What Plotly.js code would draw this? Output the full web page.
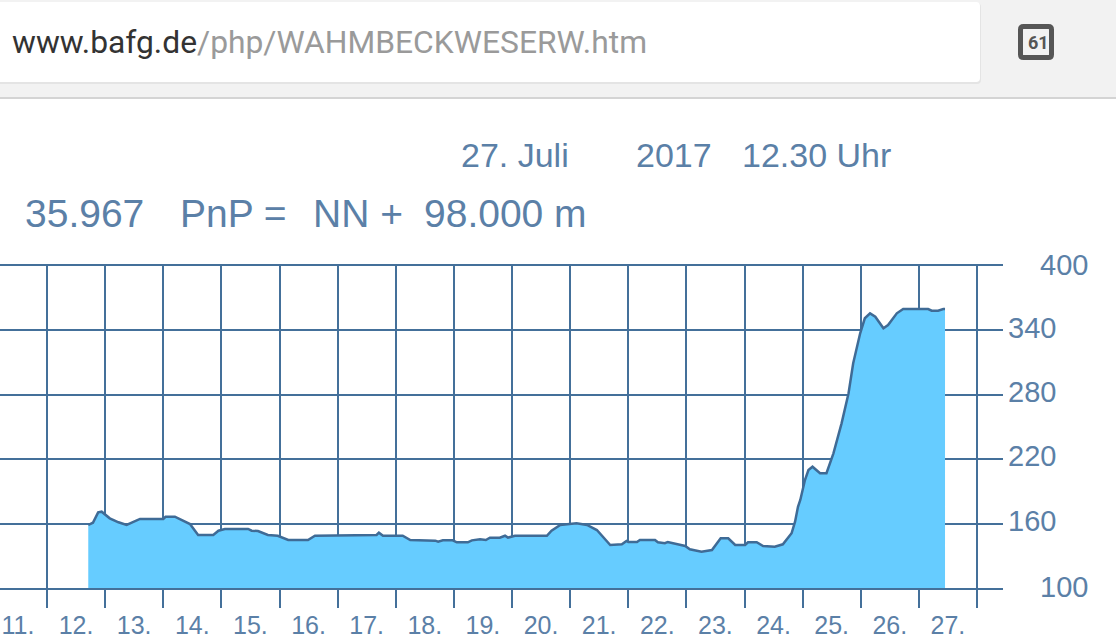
<!DOCTYPE html>
<html><head><meta charset="utf-8">
<script src="https://cdn.plot.ly/plotly-3.0.1.min.js"></script>
<style>html,body{margin:0;padding:0;background:#fff;overflow:hidden}#c{width:1116px;height:641px}</style>
</head><body><div id="c"></div>
<script>
const days = [12.71,12.79,12.88,12.94,13.08,13.23,13.37,13.51,13.60,14.00,14.04,14.20,14.46,14.60,14.86,14.95,15.06,15.46,15.52,15.63,15.80,15.97,16.15,16.49,16.61,17.67,17.71,17.78,18.12,18.25,18.68,18.73,18.81,18.98,19.05,19.24,19.31,19.45,19.52,19.55,19.62,19.79,19.88,19.93,20.05,20.60,20.68,20.83,21.11,21.29,21.46,21.69,21.89,21.97,22.00,22.15,22.20,22.46,22.51,22.63,22.68,22.77,22.98,23.06,23.26,23.44,23.59,23.72,23.84,24.01,24.06,24.21,24.32,24.52,24.66,24.81,24.87,24.92,24.96,25.04,25.10,25.17,25.30,25.41,25.53,25.67,25.79,25.87,25.99,26.07,26.16,26.25,26.39,26.47,26.62,26.73,27.16,27.22,27.33,27.42,27.45];
const levels = [158.7,160.8,170.5,171.1,164.9,161.2,158.7,161.8,164.3,164.3,166.4,166.4,159.6,149.4,149.4,153.4,155,155,153.4,153.1,149.4,148.7,144.7,144.7,148.7,149.4,151.5,148.7,148.7,144.7,144.1,143.1,144.4,144.4,142.6,142.6,144.4,145.4,145.4,144.7,146.9,146.9,148.7,146.9,148.7,148.7,153.4,158.7,160.3,158.7,154,140.1,140.7,143.8,142.9,142.9,144.7,144.7,142.6,141.7,142.9,141.7,139.1,136.1,133.8,135.4,146.3,146.3,140.1,140.1,142.6,142.6,139.1,138.5,140.7,151,161.8,175.7,182,200.6,209.9,213,206.9,206.9,225.5,253.4,281.4,309.4,337.3,351.3,355.9,352.8,342,345,355.9,359.9,359.9,358.4,358.4,359.9,359.9];
const dayLabelPos = [11.5,12.5,13.5,14.5,15.5,16.5,17.5,18.5,19.5,20.5,21.5,22.5,23.5,24.5,25.5,26.5,27.5];
const dayLabels = ["11.","12.","13.","14.","15.","16.","17.","18.","19.","20.","21.","22.","23.","24.","25.","26.","27."];
const dayLines = [12,13,14,15,16,17,18,19,20,21,22,23,24,25,26,27,28];
const levelTicks = [100,160,220,280,340,400];
const levelText = ["","160","220","280","340",""];
const endTicks = [100,400];
const endText = ["100","400"];
const headline = [["27. Juli",459,155,34],["2017",634,155,34],["12.30 Uhr",740,155,34],["35.967",23,213,39],["PnP =",178,213,39],["NN +",311,213,39],["98.000 m",422,213,39]];

const W=1116,H=641,L=0,R=1003,T=266,B=588;
const blue="#44709a", txt="#5b80a7";
const px=x=>(x-L)/(R-L), py=y=>(B-y)/(B-T);
const box=(x0,y0,x1,y1,fill)=>({type:"rect",xref:"paper",yref:"paper",x0:px(x0),x1:px(x1),y0:py(y0),y1:py(y1),fillcolor:fill,line:{width:0},layer:"below"});
const round=(x0,y0,x1,y1,r,fill,line,lw)=>({type:"path",xref:"paper",yref:"paper",layer:"below",fillcolor:fill,line:{color:line||fill,width:lw||0},
  path:`M ${px(x0+r)} ${py(y0)} L ${px(x1-r)} ${py(y0)} Q ${px(x1)} ${py(y0)} ${px(x1)} ${py(y0+r)} L ${px(x1)} ${py(y1-r)} Q ${px(x1)} ${py(y1)} ${px(x1-r)} ${py(y1)} L ${px(x0+r)} ${py(y1)} Q ${px(x0)} ${py(y1)} ${px(x0)} ${py(y1-r)} L ${px(x0)} ${py(y0+r)} Q ${px(x0)} ${py(y0)} ${px(x0+r)} ${py(y0)} Z`});
const note=(text,x,y,size,color,extra)=>Object.assign({text,xref:"paper",yref:"paper",x:px(x),y:py(y),xanchor:"left",yanchor:"middle",showarrow:false,font:{family:"Liberation Sans",size,color}},extra||{});

const shapes=[
  box(0,0,1116,97,"#f2f2f2"),
  box(0,97,1116,99,"#d4d4d4"),
  round(-6,3,981,84,4,"#e4e4e4"),
  round(-6,2,980,82,4,"#ffffff"),
  round(1020.5,26.5,1051.5,57.5,3,"#f2f2f2","#565656",5)
];
const annotations=headline.map(h=>note(h[0],h[1],h[2],h[3],txt));
annotations.push(note('<span style="color:#333333">www.bafg.de</span>/php/WAHMBECKWESERW.htm',10,42,31.8,"#9a9a9a",{font:{family:"Roboto",size:31.8,color:"#9a9a9a"}}));
annotations.push(note("<b>61</b>",1026,42.5,18,"#555555",{font:{family:"Roboto",size:18,color:"#555555"}}));

Plotly.newPlot("c",[{
  x:days,y:levels,type:"scatter",mode:"lines",fill:"tozeroy",fillcolor:"#66ccff",
  line:{color:"#3f6b96",width:2.5,shape:"linear"},hoverinfo:"skip"
},{
  x:[days[0],days[0]],y:endTicks,yaxis:"y2",type:"scatter",mode:"none",hoverinfo:"skip"
}],{
  width:W,height:H,paper_bgcolor:"#ffffff",plot_bgcolor:"#ffffff",showlegend:false,
  margin:{l:L,r:W-R,t:T,b:H-B,pad:0},
  xaxis:{type:"linear",range:[12-47/58.125,12+(1003-47)/58.125],tickmode:"array",tickvals:dayLabelPos,ticktext:dayLabels,
    ticks:"",ticklabelstandoff:14,showgrid:false,zeroline:false,showline:true,mirror:true,linecolor:blue,linewidth:2,layer:"above traces",
    tickfont:{family:"Liberation Sans",size:25,color:txt},
    minor:{tickmode:"array",tickvals:dayLines,showgrid:true,gridcolor:blue,gridwidth:2,griddash:"solid",ticks:"outside",ticklen:18,tickwidth:2,tickcolor:blue}},
  yaxis:{type:"linear",range:[100,400],side:"right",tickmode:"array",tickvals:levelTicks,ticktext:levelText,ticks:"",
    ticklabelstandoff:4,ticklabelshift:-3,showgrid:true,gridcolor:blue,gridwidth:2,zeroline:false,showline:false,
    tickfont:{family:"Liberation Sans",size:29,color:txt}},
  yaxis2:{type:"linear",range:[100,400],side:"right",overlaying:"y",anchor:"x",tickmode:"array",tickvals:endTicks,ticktext:endText,ticks:"",
    ticklabelstandoff:36,ticklabelshift:-1,showgrid:false,zeroline:false,showline:false,
    tickfont:{family:"Liberation Sans",size:29,color:txt}},
  shapes,annotations
},{displayModeBar:false,staticPlot:true});
</script></body></html>
